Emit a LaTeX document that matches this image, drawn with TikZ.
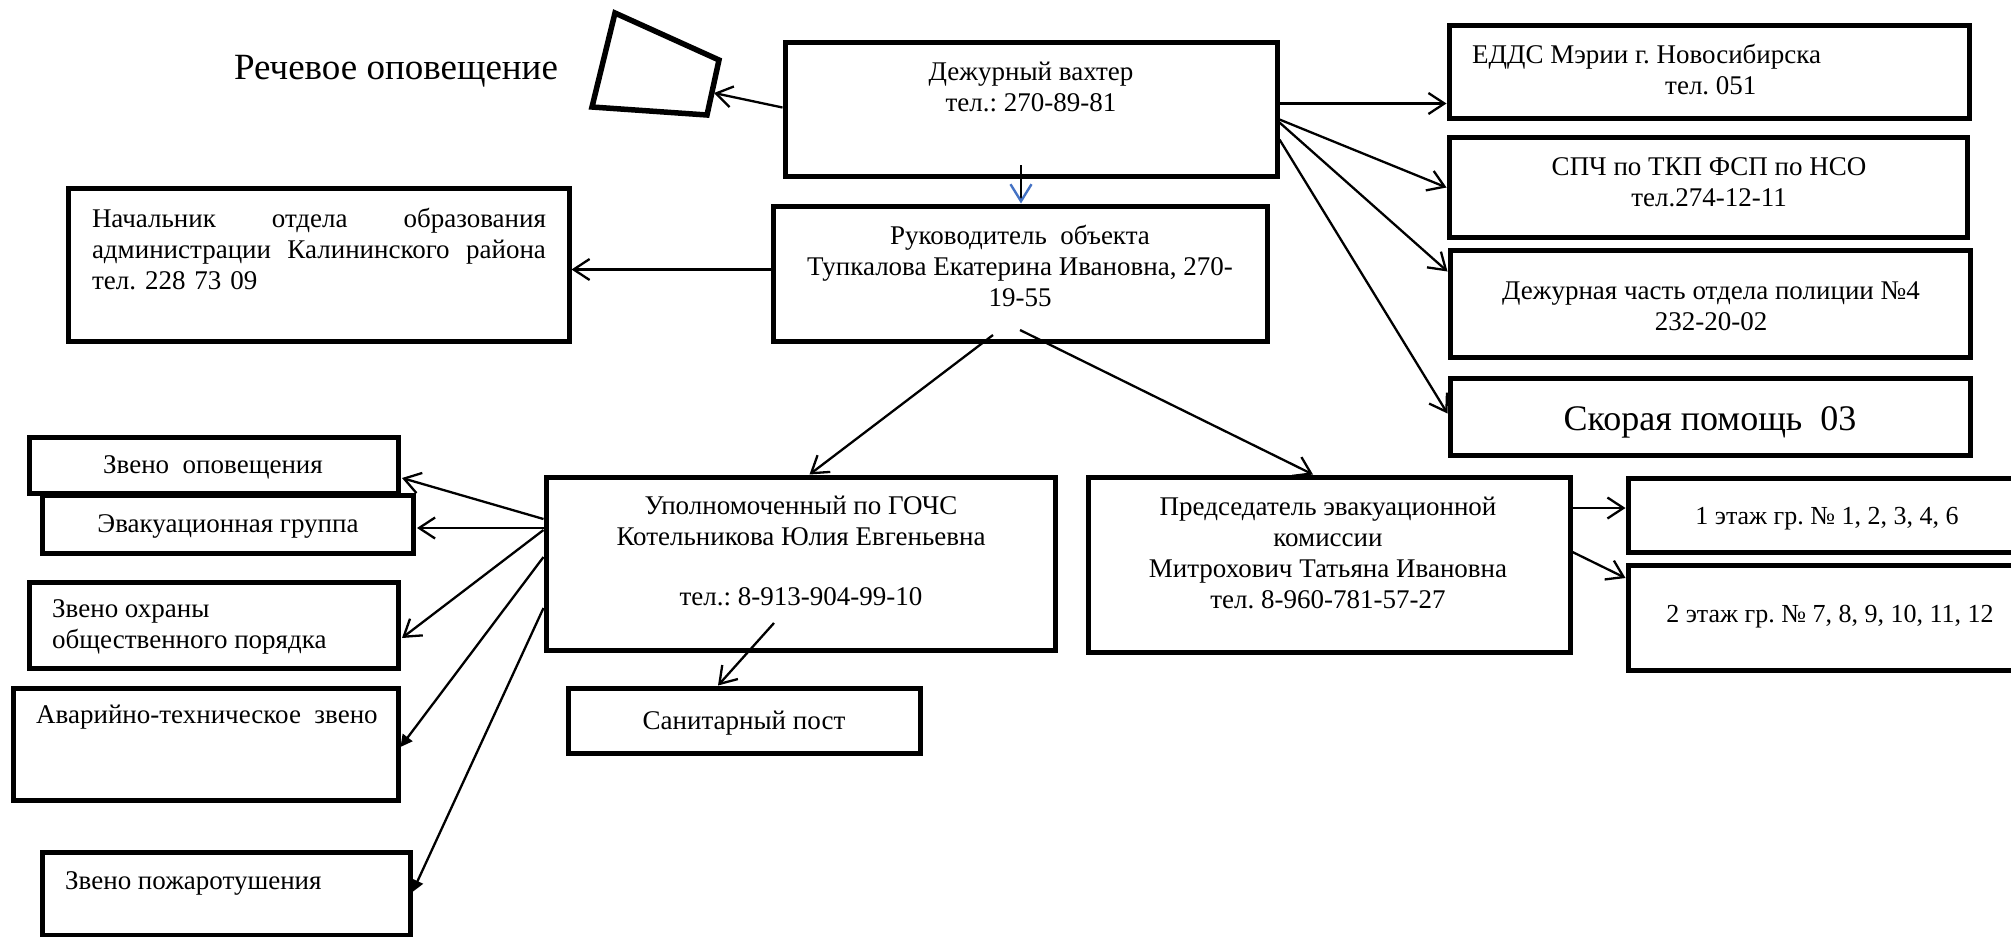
\documentclass[tikz,border=0pt]{standalone}
\usepackage{fontspec}
\setmainfont{Liberation Serif}
\usetikzlibrary{fit,calc,arrows.meta}
\definecolor{arrblue}{RGB}{68,114,196}
\frenchspacing
\begin{document}
\begin{tikzpicture}[x=1pt,y=-1pt,
  bx/.style={draw, line width=5pt, inner sep=0pt},
  txt/.style={font=\fontsize{27}{31}\selectfont, align=center, inner sep=0pt},
  conn/.style={line width=2.3pt, -{Straight Barb[length=16pt,width=21pt]}},
  connf/.style={line width=2.3pt, -{Triangle[length=12pt,width=12pt]}},
  connb/.style={line width=1.8pt, -{Straight Barb[length=17pt,width=21pt,line width=2.4pt,color=arrblue]}},
]
\useasboundingbox (0,0) rectangle (2011,937);
\clip (0,0) rectangle (2011,937);

% speaker
\draw[line width=5.5pt, line join=miter] (615,13) -- (719,60) -- (707,115) -- (592,107) -- cycle;
\coordinate (spk) at (714,93);
\node[txt, font=\fontsize{37}{42}\selectfont] (speech) at (396,71) {Речевое оповещение};

% boxes
\node[bx, fit={(785,42)(1277,176)}] (duty) {};
\node[bx, fit={(773,206)(1267,341)}] (head) {};
\node[bx, fit={(68,188)(569,341)}] (nach) {};
\node[bx, fit={(1449,25)(1969,118)}] (edds) {};
\node[bx, fit={(1449,137)(1967,237)}] (spch) {};
\node[bx, fit={(1450,250)(1970,357)}] (police) {};
\node[bx, fit={(1450,378)(1970,455)}] (amb) {};
\node[bx, fit={(546,477)(1055,650)}] (gochs) {};
\node[bx, fit={(568,688)(920,753)}] (san) {};
\node[bx, fit={(1088,477)(1570,652)}] (pred) {};
\node[bx, fit={(1628,478)(2030,552)}] (fl1) {};
\node[bx, fit={(1628,565)(2030,670)}] (fl2) {};
\node[bx, fit={(29,437)(398,493)}] (zo) {};
\node[bx, fit={(42,495)(413,553)}] (evac) {};
\node[bx, fit={(29,582)(398,668)}] (ohr) {};
\node[bx, fit={(13,688)(398,800)}] (avar) {};
\node[bx, fit={(42,852)(410,935)}] (pozh) {};

% texts
\node[txt] (dutyT) at (1031,87) {Дежурный вахтер\\тел.: 270-89-81};
\node[txt] (headT) at (1020,266) {Руководитель~ объекта\\Тупкалова Екатерина Ивановна, 270-\\19-55};
\node[txt, text width=454pt, align=left] (nachT) at (319,249) {Начальник\hfill отдела\hfill образования\\администрации\hfill Калининского\hfill района\\тел. 228 73 09};
\node[txt, align=left, anchor=west] (eddsT) at (1472,70) {ЕДДС Мэрии г. Новосибирска\\\hspace*{193pt}тел. 051};
\node[txt] (spchT) at (1709,182) {СПЧ по ТКП ФСП по НСО\\тел.274-12-11};
\node[txt] (policeT) at (1711,306) {Дежурная часть отдела полиции №4\\232-20-02};
\node[txt, font=\fontsize{36}{40}\selectfont] (ambT) at (1710,422) {Скорая помощь~ 03};
\node[txt] (gochsT) at (801,551) {Уполномоченный по ГОЧС\\Котельникова Юлия Евгеньевна\\[29pt]тел.: 8-913-904-99-10};
\node[txt] (sanT) at (744,723) {Санитарный пост};
\node[txt] (predT) at (1328,553) {Председатель эвакуационной\\комиссии\\Митрохович Татьяна Ивановна\\тел. 8-960-781-57-27};
\node[txt, font=\fontsize{26}{30}\selectfont] (fl1T) at (1827,519) {1 этаж гр. № 1, 2, 3, 4, 6};
\node[txt, font=\fontsize{26}{30}\selectfont] (fl2T) at (1830,617) {2 этаж гр. № 7, 8, 9, 10, 11, 12};
\node[txt] (zoT) at (213,467) {Звено~ оповещения};
\node[txt] (evacT) at (228,526) {Эвакуационная группа};
\node[txt, align=left, anchor=west] (ohrT) at (52,627) {Звено охраны\\общественного порядка};
\node[txt, anchor=west] (avarT) at (36,717) {Аварийно-техническое~ звено};
\node[txt, anchor=west] (pozhT) at (65,883) {Звено пожаротушения};

% connectors from duty
\draw[conn] ($(duty.north west)+(0,68)$) -- (spk);
\draw[conn] ($(duty.north east)+(0,64)$) -- ($(edds.north west)+(0,81)$);
\draw[conn] ($(duty.north east)+(0,80)$) -- ($(spch.north west)+(0,53)$);
\draw[conn] ($(duty.north east)+(0,83)$) -- ($(police.north west)+(0,24)$);
\draw[conn] ($(duty.north east)+(0,100)$) -- ($(amb.north west)+(0,38)$);
\draw[connb] ($(duty.south)+(-10,-13.5)$) -- ($(head.north)+(1,0)$);

% connectors from head
\draw[conn] ($(head.north west)+(0,66)$) -- ($(nach.north east)+(0,84)$);
\draw[conn] ($(head.north west)+(222.5,131.5)$) -- ($(gochs.north west)+(266,0)$);
\draw[conn] ($(head.north west)+(249.5,126.5)$) -- ($(pred.north west)+(227.5,0)$);

% connectors from gochs
\draw[conn] ($(gochs.north west)+(230.5,148.5)$) -- ($(san.north west)+(152.5,0)$);
\draw[conn] ($(gochs.north west)+(0,44.5)$) -- ($(zo.north east)+(1.5,43.5)$);
\draw[conn] ($(gochs.north west)+(0,53.5)$) -- ($(evac.north east)+(1.5,35.5)$);
\draw[conn] ($(gochs.north west)+(0,55.5)$) -- ($(ohr.north east)+(1.5,58.5)$);
\draw[connf] ($(gochs.north west)+(0,82.5)$) -- ($(avar.north east)+(0,61.5)$);
\draw[connf] ($(gochs.north west)+(0,133.5)$) -- ($(pozh.north east)+(0,42.5)$);

% connectors from pred
\draw[conn] ($(pred.north east)+(0,33.5)$) -- ($(fl1.north west)+(0,32.5)$);
\draw[conn] ($(pred.north east)+(0,77.5)$) -- ($(fl2.north west)+(0,15.5)$);
\end{tikzpicture}
\end{document}
